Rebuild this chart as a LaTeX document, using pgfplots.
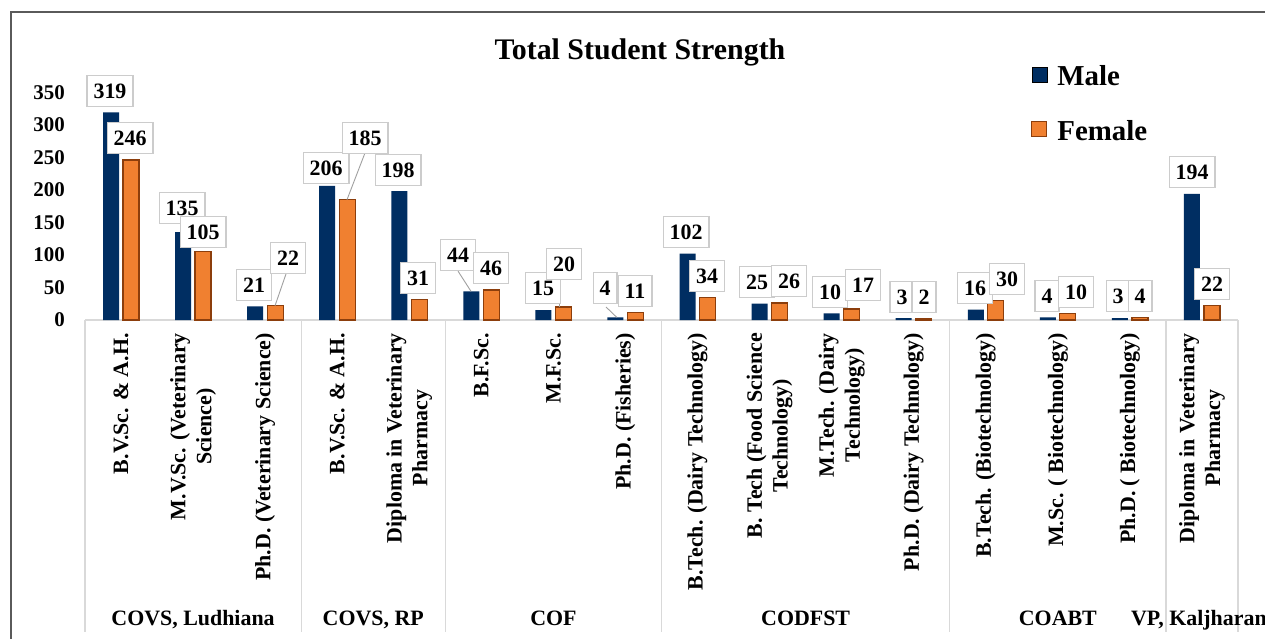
\documentclass[border=0pt]{standalone}
\usepackage{pgfplots}
\pgfplotsset{compat=1.18}
\usepackage{pgfplotstable}
\usepackage{fontspec}
\setmainfont{Liberation Serif}
\definecolor{male}{RGB}{0,46,98}
\definecolor{female}{RGB}{240,128,48}
\definecolor{femaleedge}{RGB}{140,62,12}
\definecolor{boxgray}{RGB}{204,204,204}
\definecolor{sepgray}{RGB}{217,217,217}
\definecolor{framegray}{RGB}{90,90,90}
\definecolor{leader}{RGB}{160,160,160}
\newcommand{\lbl}{\bfseries\fontsize{21}{25}\selectfont}
\newcommand{\xlbl}{\bfseries\fontsize{22}{26}\selectfont}
\pgfplotsset{sqlegend/.style={legend image code/.code={\draw[##1] (0bp,-6.5bp) rectangle (15bp,8.5bp);}}}

\pgfplotstableread{
x y
0 319
1 135
2 21
3 206
4 198
5 44
6 15
7 4
8 102
9 25
10 10
11 3
12 16
13 4
14 3
15 194
}\maletable
\pgfplotstableread{
x y
0 246
1 105
2 22
3 185
4 31
5 46
6 20
7 11
8 34
9 26
10 17
11 2
12 30
13 10
14 4
15 22
}\femaletable
\pgfplotstableread{
x y lab
-0.153 352 319
0.125 280 246
0.847 172 135
1.138 135 105
1.846 54 21
2.318 95 22
2.845 234 206
3.386 280 185
3.844 231 198
4.122 65 31
4.677 100 44
5.135 80 46
5.856 49 15
6.148 86 20
6.717 49 4
7.133 45 11
7.841 135 102
8.132 68 34
8.826 58 25
9.270 60 26
9.839 43 10
10.297 54 17
10.838 35 3
11.143 35 2
11.851 49 16
12.295 63 30
12.850 37 4
13.253 43 10
13.836 37 3
14.141 37 4
14.863 228 194
15.140 55 22
}\labeltable

\begin{document}
\begin{tikzpicture}
\useasboundingbox (0bp,0bp) rectangle (1265bp,639bp);
\fill[white] (0bp,0bp) rectangle (1265bp,639bp);
\draw[framegray, line width=1.5bp] (11bp,0bp) -- (11bp,627bp) -- (1266bp,627bp);
\node[anchor=base, font=\bfseries\fontsize{30}{34}\selectfont] at (640bp,579bp) {Total Student Strength};
\begin{axis}[
  at={(85bp,319bp)}, anchor=south west,
  scale only axis, width=1153bp, height=260.2bp,
  xmin=-0.5, xmax=15.5, ymin=0, ymax=400,
  clip=false,
  axis x line*=bottom, axis y line*=left,
  y axis line style={draw=none},
  x axis line style={draw=sepgray, line width=1.2bp, -},
  major tick length=0pt,
  /pgf/number format/assume math mode=true,
  ytick={0,50,...,350},
  yticklabel style={font=\lbl, anchor=east, inner xsep=20bp, inner ysep=0pt},
  xtick={0,...,15},
  xticklabels={
    {B.V.Sc. \& A.H.},
    {M.V.Sc. (Veterinary\\Science)},
    {Ph.D. (Veterinary Science)},
    {B.V.Sc. \& A.H.},
    {Diploma in Veterinary\\Pharmacy},
    {B.F.Sc.},
    {M.F.Sc.},
    {Ph.D. (Fisheries)},
    {B.Tech. (Dairy Technology)},
    {B. Tech (Food Science\\Technology)},
    {M.Tech. (Dairy\\Technology)},
    {Ph.D. (Dairy Technology)},
    {B.Tech. (Biotechnology)},
    {M.Sc. ( Biotechnology)},
    {Ph.D. ( Biotechnology)},
    {Diploma in Veterinary\\Pharmacy}},
  xticklabel style={font=\xlbl, rotate=90, anchor=east, align=center, inner xsep=13bp, inner ysep=0pt},
  legend style={at={(axis description cs:0.8205,0.980)}, anchor=north west,
    draw=none, fill=none, inner sep=0pt, row sep=35bp,
    font=\bfseries\fontsize{29}{33}\selectfont,
    nodes={inner sep=0pt, text height=20bp, text depth=0bp},
    /tikz/every odd column/.append style={column sep=10bp}},
  legend cell align=left,
]
\addplot[ybar, bar width=16bp, bar shift=-10bp, fill=male, draw=none, sqlegend] table[x=x,y=y] {\maletable};
\addlegendentry{Male}
\addplot[ybar, bar width=16bp, bar shift=10bp, fill=female, draw=femaleedge, line width=1.2bp, sqlegend] table[x=x,y=y] {\femaletable};
\addlegendentry{Female}

\draw[leader, line width=0.9bp] (axis cs:2.318,80) -- (axis cs:2.137,22);
\draw[leader, line width=0.9bp] (axis cs:3.386,257) -- (axis cs:3.136,185);
\draw[leader, line width=0.9bp] (axis cs:4.677,75) -- (axis cs:4.857,44);
\draw[leader, line width=0.9bp] (axis cs:6.08,61) -- (axis cs:6.08,20);
\draw[leader, line width=0.9bp] (axis cs:6.73,20) -- (axis cs:6.88,4);

\addplot[draw=none, mark=none, forget plot,
  nodes near coords, point meta=explicit symbolic,
  nodes near coords align={center},
  every node near coord/.append style={draw=boxgray, fill=white, line width=1.2bp,
    font=\bfseries\fontsize{22}{26}\selectfont, inner xsep=6.5bp, inner ysep=8bp,
    text height=15bp, text depth=0bp, anchor=center}]
  table[x=x,y=y,meta=lab] {\labeltable};

\foreach \s in {-0.5,2.5,4.5,7.5,11.5,14.5,15.5} {
  \edef\temp{\noexpand\draw[sepgray, line width=1.2bp] (axis cs:\s,0) -- (axis cs:\s,-480);}
  \temp
}
\node[anchor=base, font=\xlbl] at (axis cs:1,-470) {COVS, Ludhiana};
\node[anchor=base, font=\xlbl] at (axis cs:3.5,-470) {COVS, RP};
\node[anchor=base, font=\xlbl] at (axis cs:6,-470) {COF};
\node[anchor=base, font=\xlbl] at (axis cs:9.5,-470) {CODFST};
\node[anchor=base, font=\xlbl] at (axis cs:13,-470) {COABT};
\node[anchor=base, font=\xlbl] at (axis cs:15,-470) {VP, Kaljharani};
\end{axis}
\end{tikzpicture}
\end{document}
